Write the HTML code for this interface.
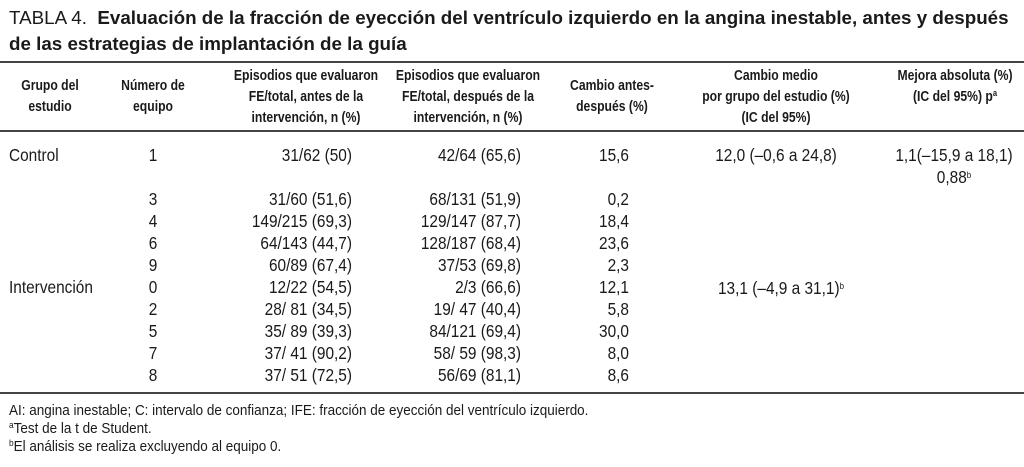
<!DOCTYPE html>
<html><head><meta charset="utf-8"><style>
body{margin:0;width:1024px;height:467px;background:#fff;overflow:hidden;position:relative;color:#1a1a1a}
.t{position:absolute;white-space:nowrap;font-family:"Liberation Sans Narrow","Liberation Sans",sans-serif;font-size:17.5px;line-height:22px}
.b{transform:scaleX(0.88);transform-origin:left top}
.b.r{transform-origin:right top}.b.c{transform-origin:center top}
.title{position:absolute;left:9px;font-family:"Liberation Sans",sans-serif;font-size:18.8px;line-height:22px;white-space:nowrap;font-weight:bold}
.h{font-weight:bold;font-size:14.5px;line-height:21px;text-align:center;transform:scaleX(0.84);transform-origin:center top}
.r{text-align:right}.c{text-align:center}
.fn{font-size:14.5px;transform:scaleX(0.93);transform-origin:left top}
.rule{position:absolute;left:0;width:1024px;background:#444}
sup{font-size:9px;vertical-align:5px;line-height:0}
</style></head><body>
<div class="title" style="top:7px"><span style="font-weight:normal">TABLA 4.</span>&nbsp; Evaluación de la fracción de eyección del ventrículo izquierdo en la angina inestable, antes y después</div>
<div class="title" style="top:33px">de las estrategias de implantación de la guía</div>
<div class="rule" style="top:61px;height:2px"></div>
<div class="rule" style="top:130px;height:2px"></div>
<div class="rule" style="top:392px;height:2px"></div>

<div class="t h" style="left:0;width:100px;top:76px">Grupo del<br>estudio</div>
<div class="t h" style="left:103px;width:100px;top:76px">Número de<br>equipo</div>
<div class="t h" style="left:216px;width:180px;top:66px">Episodios que evaluaron<br>FE/total, antes de la<br>intervención, n (%)</div>
<div class="t h" style="left:378px;width:180px;top:66px">Episodios que evaluaron<br>FE/total, después de la<br>intervención, n (%)</div>
<div class="t h" style="left:552px;width:120px;top:76px">Cambio antes-<br>después (%)</div>
<div class="t h" style="left:676px;width:200px;top:66px">Cambio medio<br>por grupo del estudio (%)<br>(IC del 95%)</div>
<div class="t h" style="left:880px;width:150px;top:66px">Mejora absoluta (%)<br>(IC del 95%) p<sup>a</sup></div>

<div id="rows"></div>

<div class="t b c" style="left:676px;width:200px;top:144px;text-align:center">12,0 (–0,6 a 24,8)</div>
<div class="t b c" style="left:866px;width:176px;top:144px">1,1(–15,9 a 18,1)<br>0,88<sup>b</sup></div>
<div class="t b c" style="left:676px;width:210px;top:277px;text-align:center">13,1 (–4,9 a 31,1)<sup>b</sup></div>

<div class="t fn" style="left:9px;top:400px">AI: angina inestable; C: intervalo de confianza; IFE: fracción de eyección del ventrículo izquierdo.</div>
<div class="t fn" style="left:9px;top:418px"><sup>a</sup>Test de la t de Student.</div>
<div class="t fn" style="left:9px;top:436px"><sup>b</sup>El análisis se realiza excluyendo al equipo 0.</div>

<script>
const groups=["Control","","","","","Intervención","","","",""];
const teams=["1","3","4","6","9","0","2","5","7","8"];
const before=["31/62 (50)","31/60 (51,6)","149/215 (69,3)","64/143 (44,7)","60/89 (67,4)","12/22 (54,5)","28/ 81 (34,5)","35/ 89 (39,3)","37/ 41 (90,2)","37/ 51 (72,5)"];
const after=["42/64 (65,6)","68/131 (51,9)","129/147 (87,7)","128/187 (68,4)","37/53 (69,8)","2/3 (66,6)","19/ 47 (40,4)","84/121 (69,4)","58/ 59 (98,3)","56/69 (81,1)"];
const change=["15,6","0,2","18,4","23,6","2,3","12,1","5,8","30,0","8,0","8,6"];
const rowsEl=document.getElementById('rows');
function cell(txt,style,name,cls){
  const d=document.createElement('div');
  d.className='t b'+(cls?' '+cls:'');
  d.setAttribute('style',style);
  d.textContent=txt;
  
  
  rowsEl.appendChild(d);
}
for(let i=0;i<teams.length;i++){
  const top=(i===0?144:188+(i-1)*22);
  if(groups[i]) cell(groups[i],'left:9px;top:'+top+'px','group-label');
  cell(teams[i],'left:123px;width:60px;top:'+top+'px','team-number','c');
  cell(before[i],'left:180px;width:172px;top:'+top+'px','before-value','r');
  cell(after[i],'left:350px;width:171px;top:'+top+'px','after-value','r');
  cell(change[i],'left:550px;width:79px;top:'+top+'px','change-value','r');
}
</script>
</body></html>
